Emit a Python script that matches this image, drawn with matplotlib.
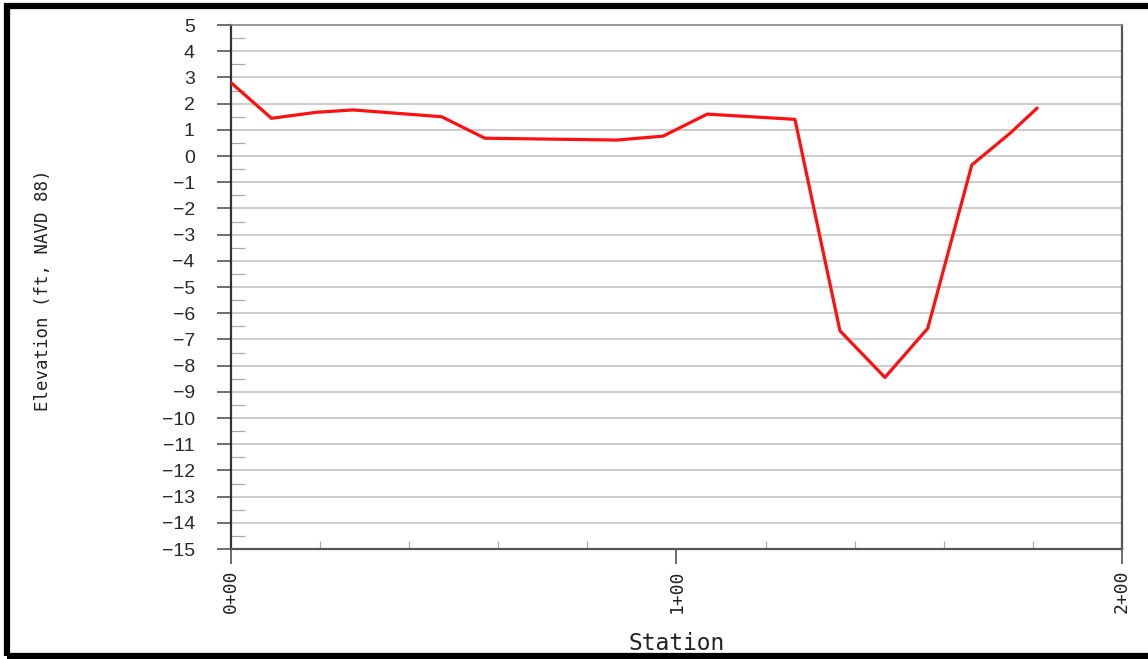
import matplotlib.pyplot as plt
import matplotlib.ticker as mticker
from matplotlib.patches import Rectangle

# station (ft) and ground elevation (ft, NAVD 88)
station = [0, 9.1, 19.2, 27.4, 47.3, 57.0, 86.6, 97.0, 106.9, 126.6,
           136.7, 146.8, 156.4, 166.3, 174.9, 180.9]
elevation = [2.80, 1.44, 1.67, 1.76, 1.50, 0.68, 0.61, 0.76, 1.60, 1.40,
             -6.67, -8.45, -6.58, -0.34, 0.87, 1.82]

x_ticks = [0, 100, 200]
x_labels = ["0+00", "1+00", "2+00"]

fig = plt.figure(figsize=(11.48, 6.59), dpi=100)
ax = fig.add_axes([0.2012, 0.1669, 0.7761, 0.7951])

ax.plot(station, elevation, color="#ff1010", lw=2.3, zorder=3)

ax.set_xlim(0, 200)
ax.set_ylim(-15, 5)

# horizontal grid every foot
ax.yaxis.set_major_locator(mticker.MultipleLocator(1))
ax.yaxis.set_minor_locator(mticker.MultipleLocator(0.5))
ax.grid(axis="y", which="major", color="#c4c4c4", lw=1.2)
ax.set_axisbelow(True)

ax.tick_params(axis="y", which="major", direction="out", length=10,
               width=1.2, color="#555555", pad=16, labelsize=14,
               labelcolor="#2a2a2a")
ax.tick_params(axis="y", which="minor", direction="in", length=10,
               width=0.9, color="#aaaaaa")
for lab in ax.get_yticklabels():
    lab.set_family("Liberation Sans")

ax.set_xticks(x_ticks)
ax.set_xticklabels(x_labels, rotation=90, family="DejaVu Sans Mono",
                   fontsize=13, color="#222222")
ax.xaxis.set_minor_locator(mticker.MultipleLocator(20))
ax.tick_params(axis="x", which="major", direction="out", length=11,
               width=1.2, color="#555555", pad=4)
ax.tick_params(axis="x", which="minor", direction="in", length=6,
               width=0.9, color="#aaaaaa")

ax.spines["left"].set_color("#333333")
ax.spines["left"].set_linewidth(1.6)
ax.spines["bottom"].set_color("#555555")
ax.spines["bottom"].set_linewidth(1.6)
ax.spines["right"].set_color("#555555")
ax.spines["right"].set_linewidth(1.6)
ax.spines["top"].set_color("#888888")
ax.spines["top"].set_linewidth(1.2)

ax.set_ylabel("Elevation (ft, NAVD 88)", family="DejaVu Sans Mono",
              fontsize=12.5, color="#222222")
ax.yaxis.set_label_coords(-0.201, 0.494)
ax.set_xlabel("Station", family="DejaVu Sans Mono", fontsize=16.5,
              color="#222222")
ax.xaxis.set_label_coords(0.5, -0.158)

# black frame around the sheet (open on the right)
fig.patches.append(Rectangle((0.0061, 0.0046), 1.2, 0.987,
                             transform=fig.transFigure, fill=False,
                             ec="black", lw=4.5))

fig.savefig("out.png", dpi=100)
